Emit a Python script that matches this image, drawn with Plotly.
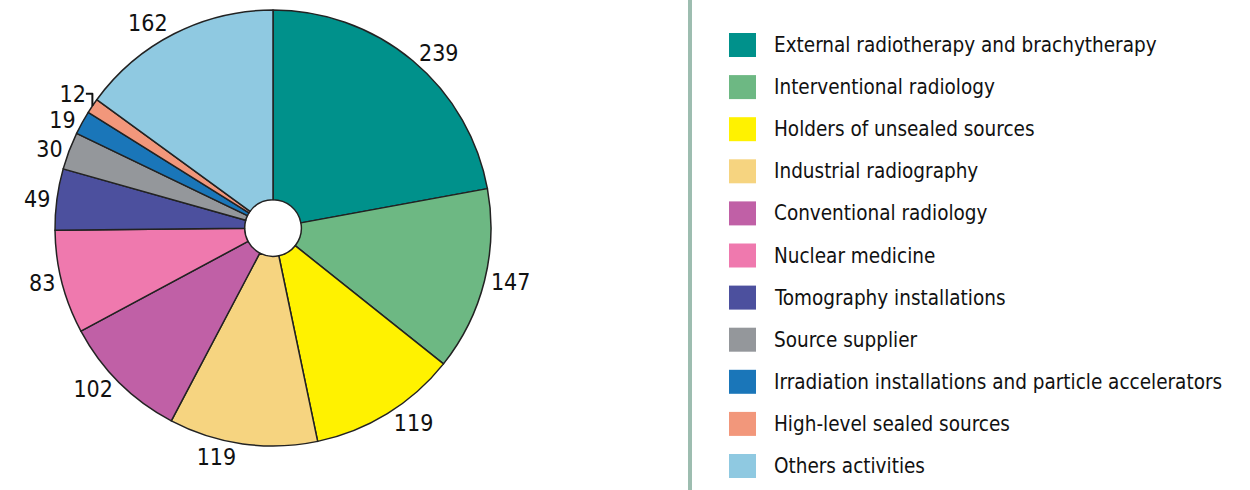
import plotly.graph_objects as go

categories = [
    "External radiotherapy and brachytherapy",
    "Interventional radiology",
    "Holders of unsealed sources",
    "Industrial radiography",
    "Conventional radiology",
    "Nuclear medicine",
    "Tomography installations",
    "Source supplier",
    "Irradiation installations and particle accelerators",
    "High-level sealed sources",
    "Others activities",
]
values = [239, 147, 119, 119, 102, 83, 49, 30, 19, 12, 162]
colors = ["#00918b", "#6db883", "#fff200", "#f6d480", "#c060a6", "#ef79ae",
          "#4c509e", "#94979b", "#1a76b9", "#f2977b", "#8fc9e1"]

FONT = "DejaVu Sans Condensed, Liberation Sans Narrow, Arial Narrow, sans-serif"
W, H = 1250, 490

fig = go.Figure()
fig.add_trace(go.Pie(
    labels=categories,
    values=values,
    text=[str(v) for v in values],
    textinfo="text",
    textposition="outside",
    sort=False,
    direction="clockwise",
    rotation=0,
    hole=0.13,
    marker=dict(colors=colors, line=dict(color="#222222", width=1.5)),
    outsidetextfont=dict(family=FONT, size=23, color="#111111"),
    showlegend=False,
    domain=dict(x=[(273 - 218) / W, (273 + 218) / W], y=[(262 - 218) / H, (262 + 218) / H]),
))

shapes = [dict(type="line", xref="paper", yref="paper", x0=690 / W, x1=690 / W, y0=0, y1=1,
               line=dict(color="#9dbdb0", width=4))]
annotations = []
row_top, row_step = 45, 42.1
for i, (cat, col) in enumerate(zip(categories, colors)):
    yc = row_top + i * row_step
    shapes.append(dict(type="rect", xref="paper", yref="paper",
                       x0=729 / W, x1=756 / W,
                       y0=1 - (yc + 12) / H, y1=1 - (yc - 12) / H,
                       fillcolor=col, line=dict(width=0)))
    annotations.append(dict(xref="paper", yref="paper", x=772 / W, y=1 - yc / H,
                            xanchor="left", yanchor="middle", showarrow=False,
                            text=cat, font=dict(family=FONT, size=20.5, color="#111111")))

fig.update_layout(
    width=W, height=H,
    margin=dict(l=0, r=0, t=0, b=0),
    paper_bgcolor="white", plot_bgcolor="white",
    shapes=shapes, annotations=annotations,
)
fig.write_html("out.html", config={"displayModeBar": False},
               post_script="document.body.style.margin='0';")
